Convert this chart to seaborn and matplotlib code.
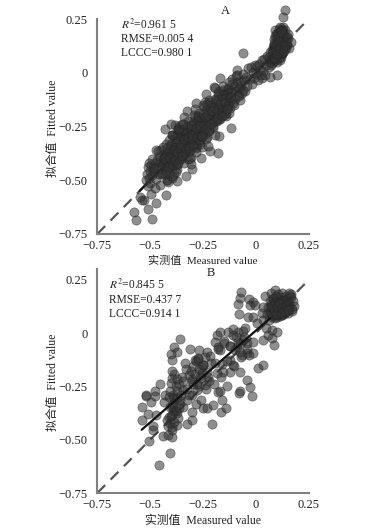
import matplotlib
matplotlib.use('Agg')
import matplotlib.pyplot as plt
import pandas as pd
import seaborn as sns

# panel A
a_measured = [
    -.576, -.567, -.490, -.509, -.471, -.425, -.531, -.550, -.498, -.332,
    -.373, -.300, -.217, -.179, -.258, -.175, -.463, .138, .130, -.059,
    -.116, -.170, -.200, -.088, -.324, -.382, -.362, .099, .067, .028,
    -.515, -.510, -.505, -.500, -.495, -.490, -.485, -.520, -.512, -.502,
    -.480, -.475, -.470, -.465, -.460, -.455, -.450, -.478, -.468, -.458,
    -.445, -.440, -.435, -.430, -.425, -.420, -.415, -.410, -.405, -.400,
    -.448, -.438, -.428, -.418, -.408, -.398, -.443, -.433, -.423, -.413,
    -.395, -.390, -.385, -.380, -.375, -.370, -.365, -.360, -.355, -.350,
    -.402, -.392, -.382, -.372, -.362, -.352, -.397, -.387, -.377, -.367,
    -.345, -.340, -.335, -.330, -.325, -.320, -.315, -.310, -.305, -.300,
    -.348, -.338, -.328, -.318, -.308, -.298, -.343, -.333, -.323, -.313,
    -.295, -.290, -.285, -.280, -.275, -.270, -.265, -.260, -.255, -.250,
    -.292, -.282, -.272, -.262, -.252, -.287, -.277, -.267, -.257, -.247,
    -.245, -.240, -.235, -.230, -.225, -.220, -.215, -.210, -.205, -.200,
    -.242, -.232, -.222, -.212, -.202, -.195, -.190, -.185, -.180, -.175,
    -.170, -.165, -.160, -.155, -.150, -.145, -.140, -.135, -.130, -.125,
    -.192, -.182, -.172, -.162, -.152, -.142, -.132, -.122, -.120, -.115,
    -.110, -.105, -.100, -.095, -.090, -.085, -.080, -.075, -.070, -.065,
    -.112, -.102, -.092, -.082, -.072, -.062, -.060, -.055, -.050, -.045,
    -.040, -.035, -.030, -.025, -.020, -.015, -.010, -.005, .000, .005,
    .010, .015, .020, .025, .030, .035, .040, .045, .050, .055,
    .060, .062, .065, .068, .070, .072, .075, .078, .080, .082,
    .085, .087, .088, .090, .092, .093, .095, .096, .098, .100,
    .101, .102, .104, .105, .106, .108, .109, .110, .111, .112,
    .113, .114, .115, .116, .117, .118, .119, .120, .121, .122,
    .123, .124, .125, .126, .127, .128, .129, .130, .132, .134,
    .085, .092, .100, .106, .112, .118, .124, .130, .136, .140,
    .088, .096, .103, .110, .116, .122, .128, .135, .142, .148,
    .090, .098, .105, .113, .120, .126, .133, .095, .108, .118,
    -.505, -.492, -.482, -.470, -.415, -.405, -.392, -.380, -.365, -.420,
]
a_fitted = [
    -.647, -.687, -.682, -.634, -.605, -.569, -.593, -.579, -.565, -.481,
    -.505, -.446, -.366, -.375, -.395, -.296, -.364, .292, .258, .094,
    -.258, -.023, -.064, .011, -.180, -.244, -.247, -.012, -.020, -.023,
    -.470, -.440, -.490, -.455, -.430, -.475, -.445, -.500, -.525, -.515,
    -.460, -.420, -.495, -.440, -.470, -.410, -.450, -.535, -.405, -.385,
    -.420, -.465, -.395, -.440, -.375, -.500, -.415, -.470, -.385, -.430,
    -.360, -.345, -.410, -.380, -.350, -.490, -.470, -.400, -.330, -.315,
    -.360, -.420, -.335, -.385, -.450, -.345, -.400, -.310, -.370, -.300,
    -.330, -.355, -.300, -.430, -.280, -.395, -.290, -.470, -.355, -.260,
    -.325, -.380, -.295, -.345, -.270, -.400, -.315, -.360, -.285, -.330,
    -.240, -.420, -.310, -.250, -.390, -.230, -.265, -.365, -.225, -.285,
    -.305, -.255, -.345, -.285, -.225, -.320, -.260, -.215, -.300, -.240,
    -.195, -.350, -.205, -.330, -.280, -.170, -.290, -.185, -.225, -.160,
    -.275, -.205, -.310, -.235, -.180, -.265, -.210, -.150, -.250, -.190,
    -.135, -.300, -.125, -.245, -.165, -.225, -.140, -.200, -.110, -.170,
    -.215, -.130, -.190, -.105, -.165, -.140, -.200, -.090, -.155, -.115,
    -.120, -.225, -.085, -.180, -.100, -.185, -.070, -.165, -.130, -.085,
    -.140, -.060, -.120, -.085, -.045, -.105, -.070, -.125, -.040, -.095,
    -.030, -.150, -.015, -.110, -.055, -.080, -.005, -.035, -.085, -.020,
    -.060, .020, -.030, .025, -.050, .005, -.025, .035, -.005, .030,
    -.035, .040, .015, -.010, .060, .010, .065, -.010, .035, .080,
    .025, .075, .050, .095, .035, .065, .105, .045, .080, .120,
    .055, .110, .070, .125, .060, .095, .135, .075, .050, .115,
    .145, .065, .100, .155, .085, .125, .160, .070, .110, .175,
    .090, .135, .060, .185, .115, .150, .075, .195, .105, .170,
    .130, .085, .205, .120, .155, .095, .180, .110, .140, .165,
    .155, .200, .175, .125, .215, .090, .190, .215, .120, .160,
    .130, .180, .140, .205, .100, .150, .195, .145, .115, .135,
    .110, .165, .185, .130, .200, .105, .170, .100, .145, .125,
    -.420, -.400, -.450, -.360, -.510, -.440, -.290, -.460, -.260, -.500,
]
# the near-black core of the band in panel A
a_core_measured = [
    -.440, -.432, -.425, -.418, -.410, -.404, -.398, -.392, -.386, -.380,
    -.436, -.428, -.421, -.414, -.406, -.400, -.394, -.388, -.382, -.376,
    -.372, -.366, -.360, -.354, -.348, -.342, -.336, -.330, -.324, -.318,
    -.374, -.368, -.362, -.356, -.350, -.344, -.338, -.332, -.326, -.320,
    -.312, -.306, -.300, -.294, -.288, -.282, -.276, -.270, -.264, -.258,
    -.314, -.308, -.302, -.296, -.290, -.284, -.278, -.272, -.266, -.260,
    -.252, -.246, -.240, -.234, -.228, -.222, -.216, -.210, -.204, -.198,
    -.254, -.248, -.242, -.236, -.230, -.224, -.218, -.212, -.206, -.200,
    -.190, -.182, -.174, -.166, -.158, -.150, -.142, -.134, -.126, -.118,
    -.186, -.178, -.170, -.162, -.154, -.146, -.138, -.130, -.122, -.114,
    -.540, -.340, -.310, -.285, -.395, -.430, -.235, -.195, -.155, -.125,
    -.285, -.305, -.255, -.225, -.370, -.345, -.455, -.400, -.195, -.090,
    .082, .090, .098, .106, .114, .122, .130, .138, .146, .154,
    .086, .094, .102, .110, .118, .126, .134, .142, .150, .158,
    .084, .092, .100, .108, .116, .124, .132, .140, .148, .165,
]
a_core_fitted = [
    -.430, -.385, -.455, -.405, -.365, -.430, -.480, -.385, -.345, -.425,
    -.395, -.470, -.350, -.440, -.395, -.335, -.430, -.360, -.405, -.320,
    -.375, -.310, -.350, -.400, -.295, -.345, -.375, -.280, -.325, -.365,
    -.290, -.420, -.270, -.335, -.385, -.265, -.310, -.355, -.250, -.300,
    -.340, -.260, -.310, -.235, -.285, -.330, -.225, -.270, -.315, -.210,
    -.350, -.245, -.290, -.340, -.205, -.255, -.300, -.200, -.250, -.295,
    -.190, -.245, -.285, -.175, -.225, -.270, -.165, -.215, -.255, -.160,
    -.295, -.150, -.205, -.260, -.145, -.195, -.240, -.135, -.180, -.225,
    -.125, -.175, -.215, -.110, -.160, -.195, -.105, -.150, -.185, -.090,
    -.215, -.095, -.145, -.200, -.080, -.135, -.170, -.075, -.115, -.050,
    -.590, -.205, -.400, -.140, -.290, -.260, -.100, -.070, -.060, -.045,
    -.370, -.425, -.345, -.340, -.260, -.240, -.520, -.240, -.290, -.010,
    .095, .125, .155, .185, .110, .140, .170, .200, .130, .160,
    .070, .105, .135, .165, .195, .090, .120, .150, .180, .115,
    .140, .170, .085, .115, .150, .185, .100, .130, .165, .145,
]

# panel B
b_measured = [
    -.072, -.075, -.086, -.081, -.031, -.012, -.028, -.004, .032, .028,
    -.035, -.012, .004, -.051, -.083, -.130, -.170, -.185, -.106, -.059,
    -.149, -.193, -.359, -.386, -.371, -.313, -.401, -.397, -.267, -.233,
    -.181, -.170, -.090, -.075, -.043, -.012, .035, .075, .088, .059,
    .099, .075, .050, .035, .012, .032, -.043, -.012, -.031, -.067,
    -.122, -.075, -.122, -.154, -.185, -.043, -.028, -.075, -.138, -.170,
    -.453, -.521, -.477, -.460, -.405, -.504, -.441, -.395, -.415, -.485,
    -.485, -.540, -.540, -.509, -.470, -.209, -.327, -.303, -.300, -.284,
    -.248, -.232, -.204, -.165, -.141, -.158, -.259, -.017, -.080, -.178,
    -.521, -.496, -.477, -.435, -.390, -.375, -.397, -.420, -.405, -.415,
    -.395, -.372, -.343, -.359, -.390, -.430, -.327, -.300, -.395, -.385,
    -.405, -.380, -.400, -.390, -.410, -.375, -.395, -.385, -.365, -.350,
    -.345, -.330, -.315, -.300, -.285, -.270, -.255, -.240, -.225, -.210,
    -.395, -.375, -.355, -.335, -.315, -.295, -.275, -.255, -.235, -.215,
    -.385, -.365, -.345, -.325, -.305, -.290, -.280, -.265, -.250, -.220,
    -.195, -.180, -.165, -.150, -.135, -.120, -.105, -.110, -.160, -.200,
    .045, .052, .058, .062, .066, .070, .073, .076, .079, .082,
    .084, .086, .088, .090, .092, .094, .096, .098, .100, .102,
    .104, .106, .108, .110, .112, .114, .116, .118, .120, .122,
    .124, .126, .128, .130, .132, .135, .138, .142, .146, .150,
    .060, .068, .075, .083, .091, .099, .107, .115, .123, .131,
    .072, .085, .095, .105, .118, .128, .140, .155, .160, .148,
    .150, .155, .160, .165, .170, .175, .180, .165, .172, .158,
    .074, .082, .090, .098, .106, .114, .122, .130, .138, .146,
    .078, .086, .094, .102, .110, .118, .126, .134, .142, .150,
    -.410, -.405, -.400, -.395, -.390, -.385, -.380, -.375, -.370, -.365,
    -.300, -.290, -.280, -.270, -.260, -.250, -.240, -.230, -.295, -.275,
    -.120, -.100, -.085, -.070, -.055, -.040, -.095, -.075, -.060, -.110,
]
b_fitted = [
    .195, .167, .136, .092, .159, .148, .133, .133, .125, .094,
    .075, .075, .047, .023, .008, .008, .008, -.008, -.008, -.031,
    -.036, -.039, -.027, -.066, -.086, -.075, -.098, -.128, -.081, -.086,
    -.066, -.078, -.063, -.047, -.047, -.039, -.031, -.023, -.055, -.008,
    .008, .016, .023, .063, -.164, -.148, -.091, -.094, -.102, -.102,
    -.125, -.180, -.180, -.180, -.188, -.219, -.253, -.273, -.250, -.273,
    -.238, -.292, -.273, -.620, -.561, -.508, -.484, -.489, -.477, -.453,
    -.437, -.406, -.348, -.380, -.386, -.425, -.425, -.409, -.372, -.334,
    -.352, -.352, -.337, -.372, -.353, -.312, -.312, -.294, -.281, -.278,
    -.294, -.325, -.297, -.325, -.360, -.375, -.383, -.406, -.422, -.437,
    -.453, -.430, -.344, -.312, -.289, -.289, -.312, -.289, -.340, -.310,
    -.270, -.250, -.235, -.300, -.395, -.270, -.210, -.190, -.240, -.205,
    -.265, -.170, -.290, -.215, -.130, -.250, -.160, -.110, -.205, -.140,
    -.175, -.215, -.290, -.140, -.195, -.240, -.115, -.185, -.260, -.105,
    -.365, -.330, -.225, -.260, -.175, -.125, -.265, -.200, -.150, -.225,
    -.140, -.075, -.205, -.045, -.130, -.060, -.155, .020, -.145, -.240,
    .175, .090, .125, .060, .150, .100, .190, .075, .130, .165,
    .085, .115, .145, .070, .205, .100, .130, .160, .075, .110,
    .185, .090, .140, .120, .080, .170, .105, .150, .095, .130,
    .190, .085, .115, .155, .100, .140, .125, .175, .110, .145,
    .100, .125, .085, .160, .115, .095, .135, .105, .150, .090,
    .135, .110, .175, .090, .150, .120, .100, .130, .175, .160,
    .095, .140, .120, .170, .105, .150, .130, .185, .115, .190,
    .095, .120, .145, .085, .110, .135, .090, .125, .100, .115,
    .130, .105, .090, .125, .140, .095, .120, .105, .130, .110,
    -.300, -.345, -.390, -.440, -.330, -.415, -.365, -.305, -.400, -.350,
    -.225, -.190, -.240, -.170, -.210, -.150, -.245, -.180, -.155, -.120,
    -.060, -.080, -.040, -.110, -.020, -.075, -.020, -.090, .010, -.150,
]
a_stats = ['$\\mathit{R}^2$=0.961 5', 'RMSE=0.005 4', 'LCCC=0.980 1']
b_stats = ['$\\mathit{R}^2$=0.845 5', 'RMSE=0.437 7', 'LCCC=0.914 1']
x_ticks = [-.75, -.5, -.25, 0, .25]
x_labels = ['\u22120.75', '\u22120.5', '\u22120.25', '0', '0.25']
y_ticks = [-.75, -.5, -.25, 0, .25]
y_labels = ['\u22120.75', '\u22120.50', '\u22120.25', '0', '0.25']

sns.set_theme(style='white')
plt.rcParams['font.family'] = ['Liberation Serif', 'Noto Sans CJK SC']
plt.rcParams['mathtext.fontset'] = 'stix'

W, H = 366, 531
fig = plt.figure(figsize=(W / 100, H / 100), dpi=100)


def draw(box, ytop, xs, ys, stats, letter, letter_pos, fit, fit_z, stats_x, xlab_size):
    left, top, right, bottom = box
    ax = fig.add_axes([left / W, 1 - bottom / H, (right - left) / W, (bottom - top) / H])
    df = pd.DataFrame({'x': xs, 'y': ys})
    sns.lineplot(x=[-.75, .25], y=[-.75, .25], ax=ax, color='#555555', lw=1.6,
                 linestyle=(0, (5, 3.5)), zorder=1)
    sns.scatterplot(data=df, x='x', y='y', ax=ax, s=44, color='#333333', alpha=.55,
                    edgecolor='#222222', linewidth=.5, zorder=2, clip_on=False)
    sns.lineplot(x=fit[0], y=fit[1], ax=ax, color='#111111', lw=1.6, zorder=fit_z)
    ax.set_xlim(-.75, .25)
    ax.set_ylim(-.75, ytop)
    ax.set_xticks(x_ticks, x_labels)
    ax.set_yticks(y_ticks, y_labels)
    ax.tick_params(axis='x', direction='in', length=4, width=1, color='#777777',
                   labelsize=9, labelcolor='#222222', pad=4)
    ax.tick_params(axis='y', direction='out', length=5, width=1, color='#777777',
                   labelsize=9, labelcolor='#222222', pad=2)
    ax.spines[['top', 'right']].set_visible(False)
    ax.spines[['left', 'bottom']].set_color('#808080')
    ax.spines[['left', 'bottom']].set_linewidth(1.5)
    ax.patch.set_alpha(0)
    ax.set_xlabel('实测值  Measured value', fontsize=xlab_size, color='#222222', labelpad=3)
    ax.set_ylabel('拟合值  Fitted value', fontsize=8.5, color='#222222')
    ax.yaxis.set_label_coords(-38 / (right - left), .5 - 1.5 / (bottom - top))
    ax.text(letter_pos[0], letter_pos[1], letter, fontsize=9, color='#222222',
            ha='center', va='center')
    for i, s in enumerate(stats):
        ax.text(stats_x, .225 - i * .067, s, fontsize=8.3, color='#222222', va='center')


draw((97.3, 19, 308.7, 234), .25, a_measured + a_core_measured, a_fitted + a_core_fitted,
     a_stats, 'A', (-.146, .287), ([-.55, .15], [-.55, .15]), 1.5, -.64, 8)
draw((97.3, 269, 308.7, 493), .25 + 11 / 213.5, b_measured, b_fitted,
     b_stats, 'B', (-.212, .283), ([-.54, .067], [-.453, .07]), 3, -.695, 8.5)

fig.savefig('out.png', dpi=100)
